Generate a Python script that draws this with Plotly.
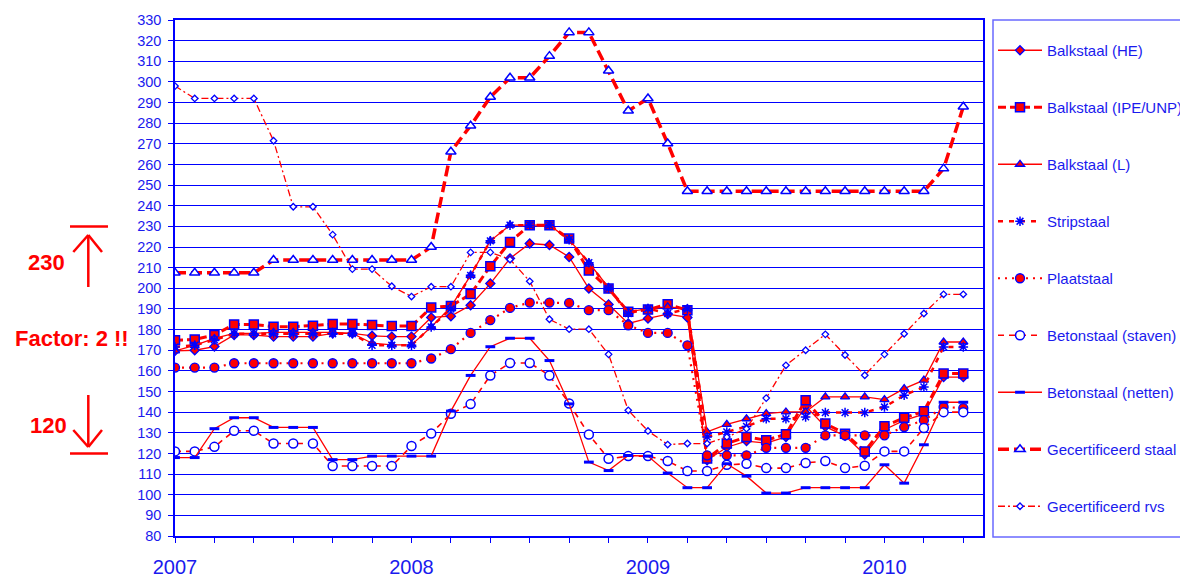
import plotly.graph_objects as go

# ---------------- data ----------------
months = list(range(41))  # Jan 2007 .. May 2010, monthly
year_ticks = [0, 12, 24, 36]
year_labels = ["2007", "2008", "2009", "2010"]
y_ticks = list(range(80, 331, 10))

balk_he = [169.7, 170, 171.8, 177.4, 177.4, 176.6, 176.6, 176.6, 178.2, 178.2, 177, 176.6, 176.6,
           185.9, 186.5, 191.8, 202.3, 214.5, 221.7, 221, 215.2, 199.9, 192.2, 183, 185.4, 187.5, 185.9,
           116.7, 123, 126, 125, 128, 143, 133, 128.5, 119.5, 131.5, 136, 139, 157, 157]
balk_ipe = [174.9, 175.2, 177.4, 182.5, 182.5, 181.4, 181.4, 181.9, 182.7, 182.7, 182.2, 181.7, 181.7,
            190.7, 191.4, 197.2, 210.7, 222.5, 230.6, 230.6, 224.1, 208.6, 199.9, 188.6, 189.7, 192.3, 189.4,
            117.5, 124.8, 128, 126.4, 129.3, 145.8, 134.5, 129.6, 121, 133.2, 137.3, 140.4, 158.7, 158.7]
balk_l = [169.7, 172.4, 175.7, 178.2, 178.2, 178.7, 178.7, 178.7, 178.7, 178.2, 173.4, 172.6, 172.6,
          181.3, 191, 206.3, 223, 230.6, 230.6, 230.6, 223.6, 212.4, 200.4, 188.6, 190.2, 191, 190.2,
          130.4, 134.1, 136.8, 139.3, 140.1, 140.1, 147.4, 147.4, 147.4, 146.1, 151.4, 155.5, 174, 174]
strip = [171.6, 172.4, 175, 178, 178, 178, 178, 178, 178, 178, 172.4, 172.4, 172.4,
         181.3, 190, 206.3, 223, 230.6, 230.6, 230.6, 223.6, 212.4, 199.9, 187.8, 190.2, 187.8, 190,
         128, 130.4, 133.1, 136.8, 136.8, 137.7, 139.8, 139.8, 139.8, 142.5, 148.2, 152.2, 171.6, 171.6]
plaat = [161.6, 161.6, 161.6, 163.7, 163.7, 163.7, 163.7, 163.7, 163.7, 163.7, 163.7, 163.7, 163.7,
         166, 170.5, 178.4, 184.6, 190.5, 193.1, 193.1, 192.9, 189.4, 189.4, 182.1, 178.4, 178.4, 172.4,
         119.1, 119.1, 119.1, 122.7, 122.7, 122.7, 128.8, 128.8, 128.8, 128.8, 132.8, 136.1, 142.5, 142]
staven = [121, 121, 123.2, 131, 131, 124.8, 124.8, 124.8, 113.9, 113.9, 113.9, 113.9, 123.6,
          129.7, 139.2, 143.9, 157.8, 163.8, 163.8, 157.8, 144.2, 129.2, 117.4, 118.7, 118.7, 116.3, 111.5,
          111.5, 114.5, 115, 112.9, 112.9, 115.4, 116.3, 112.9, 114, 121, 121, 132.3, 140, 140]
netten = [118, 118, 132, 137.3, 137.3, 132.6, 132.6, 132.6, 117, 117, 118.7, 118.7, 118.7,
          118.7, 140.5, 157.8, 171.7, 175.8, 175.8, 165, 144, 115.8, 111.7, 119, 118.7, 110.5, 103.4,
          103.4, 115, 109, 100.8, 100.8, 103.4, 103.4, 103.4, 103.4, 114.5, 105.6, 124.2, 144.8, 144.8]
gecert_staal = [207.5, 207.5, 207.5, 207.5, 207.5, 213.7, 213.7, 213.7, 213.7, 213.7, 213.7, 213.7, 213.7,
                220, 266.2, 278.8, 292.7, 302, 302, 312.5, 324, 324, 305.4, 286, 292, 270.2,
                247, 247, 247, 247, 247, 247, 247, 247, 247, 247, 247, 247, 247, 258, 288]
gecert_rvs = [298, 292, 292, 292, 292, 271.5, 239.5, 239.5, 226, 209.3, 209.3, 201, 196,
              200.8, 200.8, 217.4, 217.4, 214, 203.4, 185, 180.2, 180.2, 168, 140.9, 130.9, 124.3, 124.8,
              124.8, 128, 132, 146.8, 162.7, 170, 177.7, 167.7, 157.9, 168, 178, 187.8, 197.1, 197.1]

names = ["Balkstaal (HE)", "Balkstaal (IPE/UNP)", "Balkstaal (L)", "Stripstaal", "Plaatstaal",
         "Betonstaal (staven)", "Betonstaal (netten)", "Gecertificeerd staal", "Gecertificeerd rvs"]
series = [balk_he, balk_ipe, balk_l, strip, plaat, staven, netten, gecert_staal, gecert_rvs]

# ---------------- styles ----------------
RED = "#ff0000"
BLUE = "#0000ff"
TXT = "#1a1aee"
styles = [
    dict(line=dict(color=RED, width=1.3, dash="solid"),
         marker=dict(symbol="diamond", size=7, color=RED, line=dict(color=BLUE, width=1.3))),
    dict(line=dict(color=RED, width=3, dash="8px,4px"),
         marker=dict(symbol="square", size=9, color=RED, line=dict(color=BLUE, width=1.5))),
    dict(line=dict(color=RED, width=1.3, dash="solid"),
         marker=dict(symbol="triangle-up", size=8, color=RED, line=dict(color=BLUE, width=1.3))),
    dict(line=dict(color=RED, width=2.5, dash="5px,6px"),
         marker=dict(symbol="asterisk-open", size=8, color=BLUE, line=dict(color=BLUE, width=1.5))),
    dict(line=dict(color=RED, width=2.2, dash="2px,5px"),
         marker=dict(symbol="circle", size=9, color=RED, line=dict(color=BLUE, width=1.3))),
    dict(line=dict(color=RED, width=1.6, dash="6px,5px"),
         marker=dict(symbol="circle", size=9, color="white", line=dict(color=BLUE, width=1.5))),
    dict(line=dict(color=RED, width=1.3, dash="solid"),
         marker=dict(symbol="line-ew-open", size=7, color=BLUE, line=dict(color=BLUE, width=3))),
    dict(line=dict(color=RED, width=3.5, dash="11px,5px"),
         marker=dict(symbol="triangle-up", size=9, color="white", line=dict(color=BLUE, width=1.5))),
    dict(line=dict(color=RED, width=1.3, dash="7px,3px,2px,3px"),
         marker=dict(symbol="diamond", size=5, color="white", line=dict(color=BLUE, width=1.3))),
]

fig = go.Figure()
for i, (nm, ys, st) in enumerate(zip(names, series, styles)):
    fig.add_trace(go.Scatter(x=months, y=ys, name=nm, mode="lines+markers",
                             line=st["line"], marker=st["marker"], legendgroup=f"g{i}"))

# x tick labels: marks every 2 months, year text at January
x_tickvals = list(range(0, 41, 2))
x_ticktext = [year_labels[year_ticks.index(v)] if v in year_ticks else "" for v in x_tickvals]

FONT = "Liberation Sans, Arial, sans-serif"

W, H = 1180, 579

fig.update_layout(
    width=W, height=H,
    margin=dict(l=175, r=W - 175 - 808, t=20, b=H - 536),
    paper_bgcolor="white", plot_bgcolor="white",
    font=dict(family=FONT, color=TXT),
    showlegend=True,
    legend=dict(xref="container", yref="container", x=993 / W, y=1 - 34 / H,
                xanchor="left", yanchor="top", traceorder="grouped", tracegroupgap=34.5,
                itemwidth=44, font=dict(family=FONT, size=15, color=TXT),
                bgcolor="rgba(0,0,0,0)", borderwidth=0, maxheight=570),
    xaxis=dict(range=[0, 41], tickmode="array", tickvals=x_tickvals, ticktext=x_ticktext,
               showgrid=False, zeroline=False, showline=True, linecolor=BLUE, linewidth=1.5,
               mirror=True, ticks="outside", ticklen=5, tickcolor=BLUE, tickwidth=1,
               tickfont=dict(size=20, color=TXT, family=FONT), ticklabelstandoff=7,
               automargin=False),
    yaxis=dict(range=[80, 330], tickmode="array", tickvals=y_ticks,
               showgrid=True, gridcolor=BLUE, gridwidth=1, zeroline=False,
               showline=True, linecolor=BLUE, linewidth=1.5, mirror=True,
               ticks="outside", ticklen=5, tickcolor=BLUE, tickwidth=1,
               tickfont=dict(size=14.5, color=TXT, family=FONT), ticklabelstandoff=4,
               automargin=False),
)

# helpers: page pixel -> paper coordinates (plot area spans x 175..983, y 20..536)
def px_x(px):
    return (px - 175) / 808.0

def val_y(v):
    return (v - 80) / 250.0

def px_y(py):
    return (536 - py) / 516.0

shapes = [
    dict(type="rect", xref="paper", yref="paper", x0=px_x(993), x1=px_x(1200),
         y0=px_y(537), y1=px_y(20), line=dict(color="#6a6aff", width=1.5), fillcolor="rgba(0,0,0,0)"),
]

# "Factor 2" markers on the left: bars at 230 and 120
ax = px_x(88.3)
arrow_line = dict(color=RED, width=2.5)
shapes += [
    dict(type="line", xref="paper", yref="paper", x0=px_x(70), x1=px_x(108), y0=val_y(230), y1=val_y(230), line=arrow_line),
    dict(type="line", xref="paper", yref="paper", x0=ax, x1=ax, y0=px_y(287), y1=px_y(235), line=arrow_line),
    dict(type="line", xref="paper", yref="paper", x0=px_x(73.3), x1=ax, y0=px_y(252), y1=px_y(235), line=arrow_line),
    dict(type="line", xref="paper", yref="paper", x0=px_x(102), x1=ax, y0=px_y(252), y1=px_y(235), line=arrow_line),
    dict(type="line", xref="paper", yref="paper", x0=px_x(70), x1=px_x(108), y0=val_y(120), y1=val_y(120), line=arrow_line),
    dict(type="line", xref="paper", yref="paper", x0=ax, x1=ax, y0=px_y(395), y1=px_y(447), line=arrow_line),
    dict(type="line", xref="paper", yref="paper", x0=px_x(73.3), x1=ax, y0=px_y(430), y1=px_y(447), line=arrow_line),
    dict(type="line", xref="paper", yref="paper", x0=px_x(102), x1=ax, y0=px_y(430), y1=px_y(447), line=arrow_line),
]
fig.update_layout(shapes=shapes)

bold_red = dict(family=FONT, size=22, color=RED)
fig.add_annotation(text="<b>230</b>", xref="paper", yref="paper", x=px_x(46), y=px_y(262),
                   showarrow=False, font=bold_red, xanchor="center", yanchor="middle")
fig.add_annotation(text="<b>Factor: 2 !!</b>", xref="paper", yref="paper", x=px_x(72), y=px_y(338),
                   showarrow=False, font=bold_red, xanchor="center", yanchor="middle")
fig.add_annotation(text="<b>120</b>", xref="paper", yref="paper", x=px_x(48), y=px_y(425),
                   showarrow=False, font=bold_red, xanchor="center", yanchor="middle")

# remove the default page margin so the figure fills the window exactly
fig.write_html("out.html", config={"displayModeBar": False},
               post_script="document.body.style.margin='0';document.body.style.overflow='hidden';")
